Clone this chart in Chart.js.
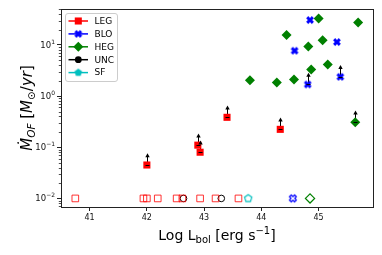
<!DOCTYPE html>
<html>
<head>
<meta charset="utf-8">
<script src="https://cdn.jsdelivr.net/npm/chart.js@4.4.1/dist/chart.umd.min.js"></script>
<style>
  html, body { margin: 0; padding: 0; background: #fff; }
</style>
</head>
<body>
<canvas id="c" width="382" height="255"></canvas>
<script>
// detections: x = log Lbol, y = outflow rate (Msun/yr); lim = lower limit (arrow up)
var legX = [42.0, 42.89, 42.93, 43.40, 44.33];
var legY = [0.045, 0.11, 0.080, 0.385, 0.224];
var legLim = [true, true, true, true, true];

var bloX = [44.85, 44.58, 44.81, 45.32, 45.38];
var bloY = [30.7, 7.7, 1.69, 11.4, 2.38];
var bloLim = [false, false, true, false, true];

var hegX = [45.0, 44.44, 45.07, 44.82, 45.69, 45.16, 44.87, 44.57, 43.80, 44.27, 45.64];
var hegY = [33, 15.7, 12.3, 9.3, 27.5, 4.15, 3.3, 2.1, 2.05, 1.85, 0.31];
var hegLim = [false, false, false, false, false, false, false, false, false, false, true];

// non detections, put at the bottom (0.01)
var legUpX = [40.75, 41.94, 42.0, 42.19, 42.52, 42.62, 42.93, 43.2, 43.6];
var uncUpX = [42.64, 43.3];
var sfUpX = [43.77];
var bloUpX = [44.55];
var hegUpX = [44.85];
var upY = 0.01;

var xTicks = [41, 42, 43, 44, 45];
var yTicks = [0.01, 0.1, 1, 10];
var yTickExp = ['\u22122', '\u22121', '0', '1'];   // drawn as 10^exp

var legendNames = ['LEG', 'BLO', 'HEG', 'UNC', 'SF'];

var RED = '#ff0000', BLUE = '#0000ff', GREEN = '#008000', CYAN = '#00bfbf';
var arrowDex = 0.21;

function pts(xs, ys) {
  return xs.map(function(x, i) { return {x: x, y: Array.isArray(ys) ? ys[i] : ys}; });
}

// little canvases for the markers chart.js doesn't have
function markerCanvas(draw) {
  var c = document.createElement('canvas');
  c.width = 12; c.height = 12;
  var g = c.getContext('2d');
  g.translate(6, 6);
  draw(g);
  return c;
}
function xPath(g, e, w) {
  var p = [[-w,-e],[w,-e],[w,-w],[e,-w],[e,w],[w,w],[w,e],[-w,e],[-w,w],[-e,w],[-e,-w],[-w,-w]];
  var k = Math.SQRT1_2;
  g.beginPath();
  p.forEach(function(q, i) {
    var x = (q[0] - q[1]) * k, y = (q[0] + q[1]) * k;
    if (i) g.lineTo(x, y); else g.moveTo(x, y);
  });
  g.closePath();
}
function pentPath(g, r) {
  g.beginPath();
  for (var i = 0; i < 5; i++) {
    var a = -Math.PI / 2 + i * 2 * Math.PI / 5;
    if (i) g.lineTo(r * Math.cos(a), r * Math.sin(a)); else g.moveTo(r * Math.cos(a), r * Math.sin(a));
  }
  g.closePath();
}
var xFilled = markerCanvas(function(g) { xPath(g, 4.0, 1.5); g.fillStyle = BLUE; g.fill(); });
var xOpen = markerCanvas(function(g) { xPath(g, 3.6, 1.3); g.strokeStyle = BLUE; g.lineWidth = 1.2; g.stroke(); });
var pentFilled = markerCanvas(function(g) { pentPath(g, 4); g.fillStyle = CYAN; g.fill(); });
var pentOpen = markerCanvas(function(g) { pentPath(g, 3.8); g.strokeStyle = CYAN; g.lineWidth = 1.2; g.stroke(); });

var limitSets = [[legX, legY, legLim], [bloX, bloY, bloLim], [hegX, hegY, hegLim]];

var arrows = {
  id: 'arrows',
  beforeDatasetsDraw: function(chart) {
    var xs = chart.scales.x, ys = chart.scales.y, ctx = chart.ctx;
    ctx.save();
    ctx.strokeStyle = '#000'; ctx.lineWidth = 1;
    limitSets.forEach(function(s) {
      s[0].forEach(function(x, i) {
        if (!s[2][i]) return;
        var px = Math.round(xs.getPixelForValue(x)) + 0.5;
        var py = ys.getPixelForValue(s[1][i]);
        var pt = ys.getPixelForValue(s[1][i] * Math.pow(10, arrowDex));
        ctx.beginPath(); ctx.moveTo(px, py); ctx.lineTo(px, pt + 2); ctx.stroke();
      });
    });
    ctx.restore();
  },
  afterDatasetsDraw: function(chart) {
    var xs = chart.scales.x, ys = chart.scales.y, ctx = chart.ctx;
    ctx.save();
    ctx.strokeStyle = '#000'; ctx.fillStyle = '#000'; ctx.lineWidth = 1;
    limitSets.forEach(function(s) {
      s[0].forEach(function(x, i) {
        if (!s[2][i]) return;
        var px = Math.round(xs.getPixelForValue(x)) + 0.5;
        var py = Math.round(ys.getPixelForValue(s[1][i])) + 0.5;
        var pt = ys.getPixelForValue(s[1][i] * Math.pow(10, arrowDex));
        ctx.beginPath(); ctx.moveTo(px - 2, py); ctx.lineTo(px + 2, py); ctx.stroke();
        ctx.beginPath(); ctx.moveTo(px, pt - 1); ctx.lineTo(px - 2.2, pt + 3); ctx.lineTo(px + 2.2, pt + 3); ctx.closePath(); ctx.fill();
      });
    });
    ctx.restore();
  }
};

function drawRun(ctx, segs, x, y) {
  segs.forEach(function(s) {
    ctx.font = s.f;
    ctx.fillText(s.t, x, y + (s.dy || 0));
    x += ctx.measureText(s.t).width;
  });
}
function runWidth(ctx, segs) {
  var w = 0;
  segs.forEach(function(s) { ctx.font = s.f; w += ctx.measureText(s.t).width; });
  return w;
}

var decor = {
  id: 'decor',
  afterDraw: function(chart) {
    var ctx = chart.ctx, a = chart.chartArea, ys = chart.scales.y;
    ctx.save();
    // minor ticks on the log axis
    ctx.strokeStyle = '#222'; ctx.lineWidth = 0.8;
    for (var d = -3; d <= 1; d++) {
      for (var m = 2; m <= 9; m++) {
        var v = m * Math.pow(10, d);
        if (v < ys.min || v > ys.max) continue;
        var p = Math.round(ys.getPixelForValue(v)) + 0.5;
        ctx.beginPath(); ctx.moveTo(a.left, p); ctx.lineTo(a.left - 2.2, p); ctx.stroke();
      }
    }
    // y tick labels as 10^n
    ctx.fillStyle = '#111';
    ctx.textBaseline = 'alphabetic'; ctx.textAlign = 'left';
    yTicks.forEach(function(v, i) {
      var p = ys.getPixelForValue(v);
      var segs = [{t: '10', f: '8.5px "DejaVu Sans"'}, {t: yTickExp[i], f: '6px "DejaVu Sans"', dy: -4}];
      drawRun(ctx, segs, a.left - 6 - runWidth(ctx, segs), p + 3);
    });
    // frame
    ctx.strokeStyle = '#222'; ctx.lineWidth = 1;
    ctx.strokeRect(a.left + 0.5, a.top + 0.5, a.right - a.left, a.bottom - a.top);

    // legend
    var bx = 65.5, by = 13.5, bw = 52, bh = 68, r = 2.5;
    ctx.fillStyle = 'rgba(255,255,255,0.8)';
    ctx.strokeStyle = '#cccccc'; ctx.lineWidth = 1;
    ctx.beginPath();
    ctx.moveTo(bx + r, by); ctx.arcTo(bx + bw, by, bx + bw, by + bh, r);
    ctx.arcTo(bx + bw, by + bh, bx, by + bh, r); ctx.arcTo(bx, by + bh, bx, by, r);
    ctx.arcTo(bx, by, bx + bw, by, r); ctx.closePath();
    ctx.fill(); ctx.stroke();
    var items = [
      {c: RED, s: 'rect', r: 5},
      {c: BLUE, s: xFilled, r: 5},
      {c: GREEN, s: 'rectRot', r: 5},
      {c: '#000', s: 'circle', r: 3.4},
      {c: CYAN, s: pentFilled, r: 5}
    ];
    items.forEach(function(it, i) {
      var yy = 21 + i * 12.9;
      ctx.strokeStyle = it.c; ctx.lineWidth = 1.5;
      ctx.beginPath(); ctx.moveTo(68.5, yy); ctx.lineTo(88, yy); ctx.stroke();
      ctx.fillStyle = it.c;
      Chart.helpers.drawPoint(ctx, {pointStyle: it.s, radius: it.r, borderWidth: 0, rotation: 0}, 78.3, yy);
      ctx.fillStyle = '#000';
      ctx.font = '9px "DejaVu Sans"';
      ctx.textBaseline = 'middle'; ctx.textAlign = 'left';
      ctx.fillText(legendNames[i], 94.5, yy + 0.5);
    });

    // axis titles
    ctx.fillStyle = '#000';
    ctx.textBaseline = 'alphabetic'; ctx.textAlign = 'left';
    var big = '14px "DejaVu Sans"', small = '10px "DejaVu Sans"';
    var xt = [
      {t: 'Log L', f: big}, {t: 'bol', f: small, dy: 3},
      {t: ' [erg s', f: big}, {t: '\u22121', f: small, dy: -6}, {t: ']', f: big}
    ];
    var cx = (a.left + a.right) / 2;
    drawRun(ctx, xt, cx - runWidth(ctx, xt) / 2, 240);

    var bi = 'italic 15px "DejaVu Sans"', si = 'italic 10.5px "DejaVu Sans"';
    var bu = '15px "DejaVu Sans"', su = '10.5px "DejaVu Sans"';
    var yt = [
      {t: '\u1e40', f: bi}, {t: 'OF', f: si, dy: 3},
      {t: ' [', f: bu}, {t: 'M', f: bi}, {t: '\u2299', f: su, dy: 3},
      {t: '/', f: bu}, {t: 'yr', f: bi}, {t: ']', f: bu}
    ];
    var cy = (a.top + a.bottom) / 2;
    ctx.translate(32, cy);
    ctx.rotate(-Math.PI / 2);
    drawRun(ctx, yt, -runWidth(ctx, yt) / 2, 0);
    ctx.restore();
  }
};

var tickFont = {family: 'DejaVu Sans', size: 8};

new Chart(document.getElementById('c'), {
  type: 'scatter',
  data: {
    datasets: [
      {label: 'LEG', data: pts(legX, legY), pointStyle: 'rect', pointRadius: 5,
        backgroundColor: RED, borderColor: RED, borderWidth: 0},
      {label: 'BLO', data: pts(bloX, bloY), pointStyle: xFilled, pointRadius: 5,
        backgroundColor: BLUE, borderColor: BLUE, borderWidth: 0},
      {label: 'HEG', data: pts(hegX, hegY), pointStyle: 'rectRot', pointRadius: 5,
        backgroundColor: GREEN, borderColor: GREEN, borderWidth: 0},
      {label: 'LEG up', data: pts(legUpX, upY), pointStyle: 'rect', pointRadius: 4.7,
        backgroundColor: 'rgba(0,0,0,0)', borderColor: 'rgba(255,0,0,0.8)', borderWidth: 1},
      {label: 'UNC up', data: pts(uncUpX, upY), pointStyle: 'circle', pointRadius: 3.3,
        backgroundColor: 'rgba(0,0,0,0)', borderColor: '#000', borderWidth: 1},
      {label: 'SF up', data: pts(sfUpX, upY), pointStyle: pentOpen, pointRadius: 5,
        backgroundColor: CYAN, borderColor: CYAN, borderWidth: 0},
      {label: 'BLO up', data: pts(bloUpX, upY), pointStyle: xOpen, pointRadius: 5,
        backgroundColor: BLUE, borderColor: BLUE, borderWidth: 0},
      {label: 'HEG up', data: pts(hegUpX, upY), pointStyle: 'rectRot', pointRadius: 4.6,
        backgroundColor: 'rgba(0,0,0,0)', borderColor: GREEN, borderWidth: 1.2}
    ]
  },
  options: {
    responsive: false,
    animation: false,
    devicePixelRatio: 1,
    layout: {padding: {left: 0, top: 9, right: 9, bottom: 0}},
    plugins: {legend: {display: false}, tooltip: {enabled: false}},
    events: [],
    scales: {
      x: {
        type: 'linear', min: 40.5, max: 45.95,
        afterBuildTicks: function(s) { s.ticks = xTicks.map(function(v) { return {value: v}; }); },
        afterFit: function(s) { s.height = 48; },
        border: {display: false},
        grid: {display: true, drawOnChartArea: false, drawTicks: true, tickLength: 4, color: '#222', tickWidth: 1},
        ticks: {font: tickFont, color: '#111', padding: 2, maxRotation: 0}
      },
      y: {
        type: 'logarithmic', min: 0.0068, max: 50.4,
        afterBuildTicks: function(s) { s.ticks = yTicks.map(function(v) { return {value: v, major: true}; }); },
        afterFit: function(s) { s.width = 61; },
        border: {display: false},
        grid: {display: true, drawOnChartArea: false, drawTicks: true, tickLength: 4, color: '#222', tickWidth: 1},
        ticks: {font: tickFont, color: '#111', padding: 2, callback: function() { return ''; }}
      }
    }
  },
  plugins: [arrows, decor]
});
</script>
</body>
</html>
